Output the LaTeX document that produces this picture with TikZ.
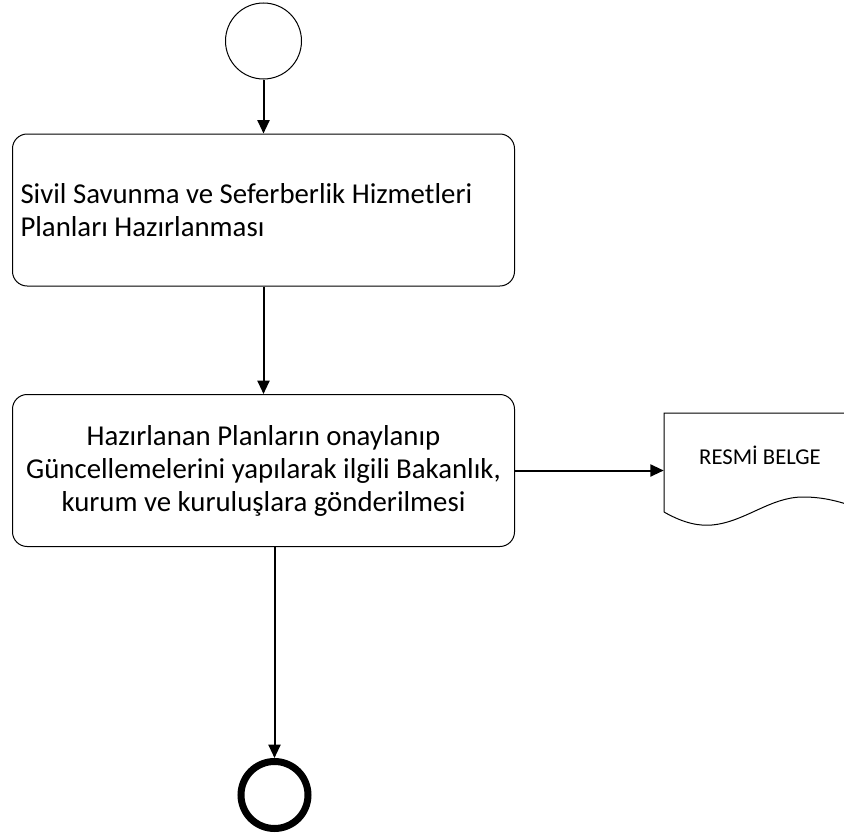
\documentclass[tikz,border=0pt]{standalone}
\usepackage{fontspec}
\setmainfont{Carlito}
\usetikzlibrary{arrows.meta}

\tikzset{
  flowbox/.style={draw, rounded corners=11pt, line width=0.75pt, minimum width=376.5pt, minimum height=114pt, inner xsep=4.5pt, font=\fontsize{21.6}{24.75}\selectfont},
  startev/.style={draw, circle, line width=0.75pt, minimum size=57pt, inner sep=0pt},
  endev/.style={draw, circle, line width=5.25pt, minimum size=50.25pt, inner sep=0pt},
  flow/.style={-{Triangle[length=10pt,width=9pt]}, line width=1.5pt}
}

\begin{document}
\begin{tikzpicture}[x=0.75pt, y=-0.75pt]
    \useasboundingbox (0,0) rectangle (844,835);
    \clip (0,0) rectangle (844,835);

    % Events
    \node[startev] (start) at (263.5,41) {};
    \node[endev] (finish) at (274.5,795) {};

    % Process steps
    \node[flowbox, text width=364.5pt, align=flush left] (plan) at (263.5,210) {
      Sivil Savunma ve Seferberlik Hizmetleri\\Planları Hazırlanması
    };

    \node[flowbox, align=center] (send) at (263.5,470.5) {
      Hazırlanan Planların onaylanıp\\Güncellemelerini yapılarak ilgili Bakanlık,\\kurum ve kuruluşlara gönderilmesi
    };

    % Document
    \node[minimum width=144pt, minimum height=74.25pt, inner sep=0pt] (belge) at (760,462.5) {};
    \draw[line width=0.75pt] (664,512) -- (664,413) -- (856,413) -- (856,507)
      .. controls (840,502) and (825,497) .. (803,497)
      .. controls (770,497) and (745,522) .. (712,525)
      .. controls (700,526) and (685,524) .. (664,512);
    \node[font=\fontsize{17}{20}\selectfont] (belgetxt) at (760,455) {RESMİ BELGE};

    % Arrows
    \draw[flow] (start) -- (plan);
    \draw[flow] (plan) -- (send);
    \draw[flow] (send.east) -- (send.east -| belge.west);
    \draw[flow] (send.south -| finish) -- (finish);
  \end{tikzpicture}
\end{document}
